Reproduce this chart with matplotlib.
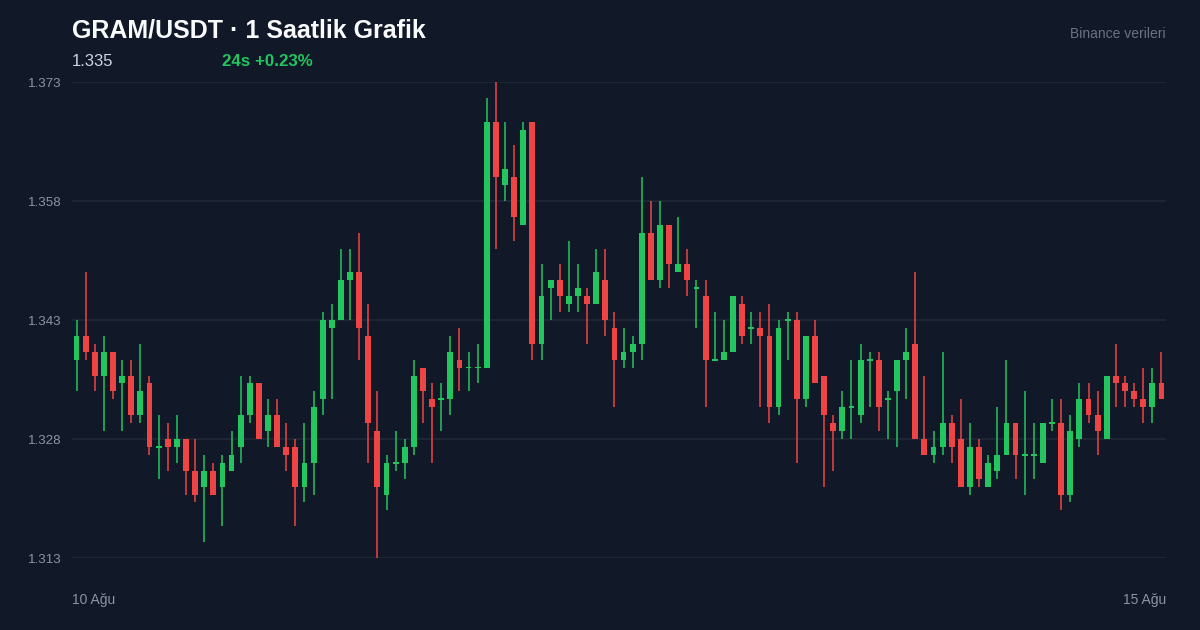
import matplotlib.pyplot as plt
import numpy as np

# hourly candles, 10 Ağu -> 15 Ağu (120 bars)
opens = [1.338, 1.341, 1.339, 1.336, 1.339, 1.335, 1.336, 1.331, 1.335, 1.327,
         1.328, 1.327, 1.328, 1.324, 1.322, 1.324, 1.322, 1.324, 1.327, 1.331,
         1.335, 1.329, 1.331, 1.327, 1.327, 1.322, 1.325, 1.333, 1.342, 1.343,
         1.348, 1.349, 1.341, 1.329, 1.321, 1.325, 1.325, 1.327, 1.337, 1.333,
         1.333, 1.333, 1.338, 1.337, 1.337, 1.337, 1.368, 1.360, 1.361, 1.355,
         1.368, 1.340, 1.347, 1.348, 1.345, 1.346, 1.346, 1.345, 1.348, 1.342,
         1.338, 1.339, 1.340, 1.354, 1.348, 1.355, 1.349, 1.350, 1.347, 1.346,
         1.338, 1.338, 1.339, 1.345, 1.342, 1.342, 1.341, 1.332, 1.343, 1.343,
         1.333, 1.341, 1.336, 1.330, 1.329, 1.332, 1.331, 1.338, 1.338, 1.333,
         1.334, 1.338, 1.340, 1.328, 1.326, 1.327, 1.330, 1.328, 1.322, 1.327,
         1.322, 1.324, 1.326, 1.330, 1.326, 1.326, 1.325, 1.330, 1.330, 1.321,
         1.328, 1.333, 1.331, 1.328, 1.336, 1.335, 1.334, 1.333, 1.332, 1.335]
highs = [1.343, 1.349, 1.340, 1.341, 1.339, 1.338, 1.338, 1.340, 1.336, 1.331,
         1.330, 1.331, 1.328, 1.328, 1.326, 1.325, 1.326, 1.329, 1.336, 1.336,
         1.335, 1.333, 1.333, 1.330, 1.328, 1.330, 1.334, 1.344, 1.345, 1.352,
         1.352, 1.354, 1.345, 1.334, 1.326, 1.329, 1.328, 1.338, 1.337, 1.335,
         1.335, 1.341, 1.342, 1.339, 1.340, 1.371, 1.373, 1.368, 1.365, 1.368,
         1.368, 1.350, 1.348, 1.350, 1.353, 1.350, 1.347, 1.352, 1.352, 1.344,
         1.342, 1.341, 1.361, 1.358, 1.358, 1.355, 1.356, 1.352, 1.348, 1.348,
         1.344, 1.343, 1.346, 1.346, 1.344, 1.344, 1.345, 1.343, 1.344, 1.344,
         1.341, 1.343, 1.336, 1.331, 1.334, 1.338, 1.340, 1.339, 1.339, 1.334,
         1.338, 1.342, 1.349, 1.336, 1.329, 1.339, 1.331, 1.333, 1.330, 1.328,
         1.326, 1.332, 1.338, 1.330, 1.334, 1.330, 1.330, 1.333, 1.333, 1.331,
         1.335, 1.335, 1.334, 1.336, 1.340, 1.336, 1.335, 1.337, 1.337, 1.339]
lows = [1.334, 1.338, 1.334, 1.329, 1.333, 1.329, 1.330, 1.330, 1.326, 1.323,
        1.324, 1.325, 1.321, 1.320, 1.315, 1.321, 1.317, 1.324, 1.325, 1.330,
        1.328, 1.327, 1.327, 1.324, 1.317, 1.320, 1.321, 1.331, 1.333, 1.343,
        1.343, 1.338, 1.325, 1.313, 1.319, 1.324, 1.323, 1.326, 1.330, 1.325,
        1.329, 1.331, 1.334, 1.334, 1.335, 1.337, 1.352, 1.358, 1.353, 1.355,
        1.338, 1.338, 1.343, 1.344, 1.344, 1.344, 1.340, 1.345, 1.341, 1.332,
        1.337, 1.337, 1.338, 1.348, 1.347, 1.347, 1.349, 1.346, 1.342, 1.332,
        1.338, 1.338, 1.339, 1.340, 1.340, 1.332, 1.330, 1.331, 1.338, 1.325,
        1.332, 1.335, 1.322, 1.324, 1.328, 1.328, 1.330, 1.332, 1.329, 1.328,
        1.327, 1.333, 1.328, 1.326, 1.325, 1.326, 1.325, 1.322, 1.321, 1.322,
        1.322, 1.323, 1.326, 1.323, 1.321, 1.323, 1.325, 1.329, 1.319, 1.320,
        1.327, 1.330, 1.326, 1.328, 1.332, 1.332, 1.332, 1.330, 1.330, 1.333]
closes = [1.341, 1.339, 1.336, 1.339, 1.334, 1.336, 1.331, 1.334, 1.327, 1.327,
          1.327, 1.328, 1.324, 1.321, 1.324, 1.321, 1.325, 1.326, 1.331, 1.335,
          1.328, 1.331, 1.327, 1.326, 1.322, 1.325, 1.332, 1.343, 1.343, 1.348,
          1.349, 1.342, 1.330, 1.322, 1.325, 1.325, 1.327, 1.336, 1.334, 1.332,
          1.333, 1.339, 1.337, 1.337, 1.337, 1.368, 1.361, 1.362, 1.356, 1.367,
          1.340, 1.346, 1.348, 1.346, 1.346, 1.347, 1.345, 1.349, 1.343, 1.338,
          1.339, 1.340, 1.354, 1.348, 1.355, 1.350, 1.350, 1.348, 1.347, 1.338,
          1.338, 1.339, 1.346, 1.341, 1.342, 1.341, 1.332, 1.342, 1.343, 1.333,
          1.341, 1.335, 1.331, 1.329, 1.332, 1.332, 1.338, 1.338, 1.332, 1.333,
          1.338, 1.339, 1.328, 1.326, 1.327, 1.330, 1.327, 1.322, 1.327, 1.323,
          1.325, 1.326, 1.330, 1.326, 1.326, 1.326, 1.330, 1.330, 1.321, 1.329,
          1.333, 1.331, 1.329, 1.336, 1.335, 1.334, 1.333, 1.332, 1.335, 1.333]

y_ticks = [1.313, 1.328, 1.343, 1.358, 1.373]
x_labels = ["10 Ağu", "15 Ağu"]

BG = "#111827"
GRID = "#1f2937"
UP = "#22c55e"
DOWN = "#ef4444"

plt.rcParams['font.family'] = ['Liberation Sans', 'DejaVu Sans']

fig = plt.figure(figsize=(12, 6.3), dpi=100, facecolor=BG)
W, H = 1200, 630
PLOT_TOP, PLOT_BOT = 82, 558
ax = fig.add_axes([72 / W, (H - PLOT_BOT) / H, 1094 / W, (PLOT_BOT - PLOT_TOP) / H])
ax.set_facecolor(BG)

o = np.array(opens)
h = np.array(highs)
l = np.array(lows)
c = np.array(closes)
idx = np.arange(len(o))
colors = [UP if cc >= oo else DOWN for oo, cc in zip(o, c)]

for yt in y_ticks:
    ax.axhline(yt, color=GRID, lw=1.2, zorder=0)

ax.vlines(idx, l, h, colors=colors, lw=1.1, zorder=2, clip_on=False)
min_h = 0.00022
body_lo = np.minimum(o, c)
body_h = np.abs(c - o)
flat = body_h < min_h
body_lo = np.where(flat, body_lo - min_h / 2, body_lo)
body_h = np.where(flat, min_h, body_h)
ax.bar(idx, body_h, bottom=body_lo, width=0.64, color=colors, edgecolor='none',
       zorder=3, clip_on=False)

ax.set_xlim(-0.5, len(o) - 0.5)
ax.set_ylim(y_ticks[0], y_ticks[-1])
ax.set_xticks([])
ax.set_yticks([])
for s in ax.spines.values():
    s.set_visible(False)


def px(x, y):
    return x / W, 1 - y / H


# y labels left of the plot
for yt in y_ticks:
    ypix = PLOT_TOP + (y_ticks[-1] - yt) / (y_ticks[-1] - y_ticks[0]) * (PLOT_BOT - PLOT_TOP)
    fig.text(*px(62, ypix + 5), f"{yt:.3f}", ha='right', va='baseline',
             fontsize=9.6, color='#8b94a3')

fig.text(*px(72, 37.5), "GRAM/USDT · 1 Saatlik Grafik", fontsize=18,
         fontweight='bold', color='#f8fafc', va='baseline', ha='left')
fig.text(*px(72, 66), "1.335", fontsize=12, color='#cbd5e1',
         va='baseline', ha='left')
fig.text(*px(222, 66), "24s +0.23%", fontsize=12.2, fontweight='bold',
         color=UP, va='baseline', ha='left')
fig.text(*px(1166, 37.5), "Binance verileri", fontsize=10, color='#6b7280',
         va='baseline', ha='right')
fig.text(*px(72, 604), x_labels[0], fontsize=10, color='#8b94a3',
         va='baseline', ha='left')
fig.text(*px(1166, 604), x_labels[1], fontsize=10, color='#8b94a3',
         va='baseline', ha='right')

fig.savefig("out.png", dpi=100, facecolor=BG)
